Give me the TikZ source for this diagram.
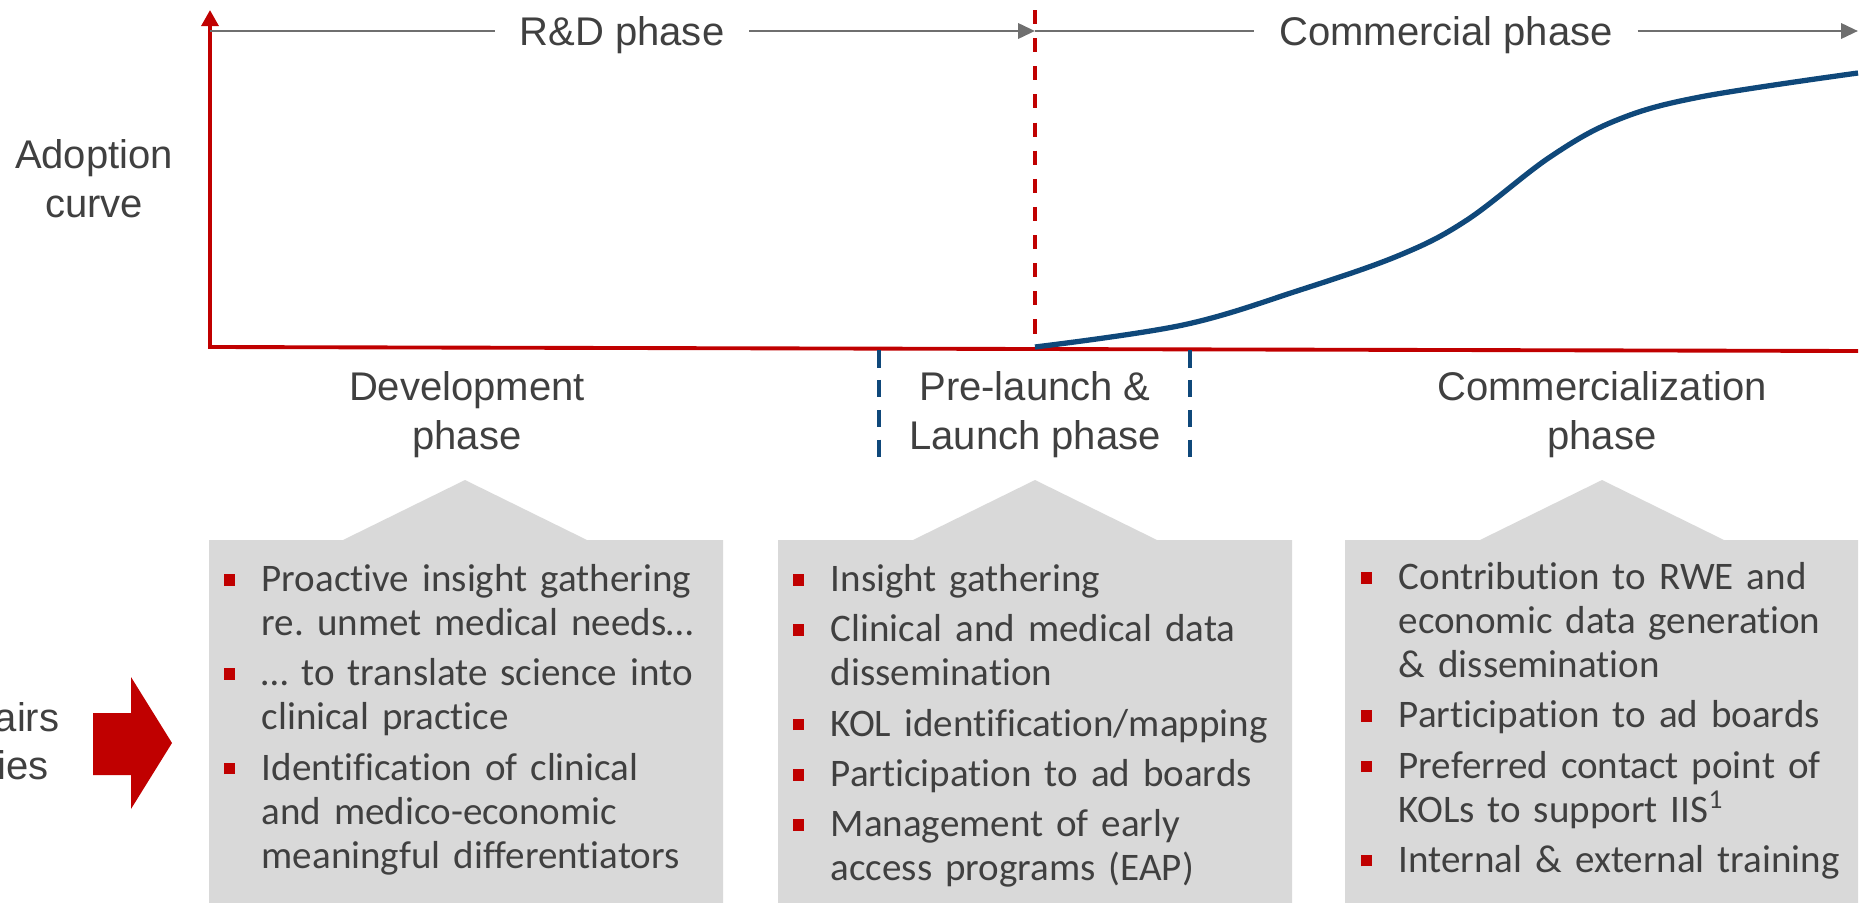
\documentclass[tikz,border=0pt]{standalone}
\usepackage{fontspec}
\setmainfont{Liberation Sans}
\newfontfamily\boxfont[Ligatures={NoCommon}]{Carlito}
\usepackage{enumitem}
\usepackage{xcolor}
\definecolor{Ink}{HTML}{404040}
\definecolor{Brick}{HTML}{C00000}
\definecolor{Navy}{HTML}{0F487A}
\definecolor{Slate}{HTML}{6F6F6F}
\definecolor{Panel}{HTML}{D9D9D9}
\usetikzlibrary{arrows.meta,positioning}

\newcommand{\sqbullet}{\textcolor{Brick}{\rule[1.7pt]{3.3pt}{3.3pt}}}
\newenvironment{acts}{\begin{itemize}[label=\sqbullet,leftmargin=10.8pt,labelsep=7.4pt,labelwidth=3.4pt,align=left,topsep=0pt,partopsep=0pt,parsep=0pt,itemsep=1.8pt]}{\end{itemize}}

\begin{document}
\begin{tikzpicture}[
  x=0.01cm, y=-0.01cm,
  labeltext/.style={font=\fontsize{11.38}{13.94}\selectfont,text=Ink,inner sep=0pt,align=center},
  phaseline/.style={draw=Slate,line width=0.85pt},
  phasearrow/.style={phaseline,-{Triangle[length=4.8pt,width=4.3pt]}},
  axisline/.style={draw=Brick,line width=1.1pt},
  launchcut/.style={draw=Brick,line width=0.9pt,dash pattern=on 4pt off 4pt},
  stagecut/.style={draw=Navy,line width=1.1pt,dash pattern=on 5pt off 3.5pt},
  panel/.style={fill=Panel},
  itemlist/.style={font=\boxfont\fontsize{11.1}{12.5}\selectfont\frenchspacing,text=Ink,inner sep=0pt,anchor=north west,text width=5cm,align=left}
]
  \useasboundingbox (0,0) rectangle (1863,903);

  % axes
  \coordinate (origin) at (210,347);
  \coordinate (ytop) at (210,10);
  \coordinate (xend) at (1858,351);
  \coordinate (launch) at (1035,347);
  \coordinate (launchtop) at (1035,10);
  \coordinate (row) at (210,31);
  \draw[axisline,-{Triangle[length=4.6pt,width=4.8pt]}] (xend) -- (origin) -- (ytop);
  \draw[launchcut] (launchtop) -- (launch);

  % phase row on top
  \node[labeltext,anchor=base,inner xsep=0.24cm] (rd) at (622,45) {R\&D phase};
  \node[labeltext,anchor=base,inner xsep=0.24cm] (comm) at (1446,45) {Commercial phase};
  \coordinate (rowend) at (1858,31);
  \draw[phaseline] (row) -- (rd.west |- row);
  \draw[phasearrow] (rd.east |- row) -- (launch |- row);
  \draw[phaseline] (launch |- row) -- (comm.west |- row);
  \draw[phasearrow] (comm.east |- row) -- (rowend);

  \node[labeltext,anchor=north] (adopt) at (94,139) {Adoption\\curve};

  % adoption curve
  \draw[Navy,line width=1.5pt] plot[smooth,tension=0.6] coordinates {(1035,347) (1183,325) (1300,290) (1400,255) (1467,220) (1550,157) (1617,120) (1700,97) (1858,73)};

  % stage limits
  \coordinate (prelaunch) at (879,350);
  \coordinate (postlaunch) at (1190,350);
  \draw[stagecut] (prelaunch) -- ++(0,107);
  \draw[stagecut] (postlaunch) -- ++(0,107);

  \node[labeltext,anchor=north] (dev) at (467,371) {Development\\phase};
  \node[labeltext,anchor=north] (pre) at (1035,371) {Pre-launch \&\\Launch phase};
  \node[labeltext,anchor=north] (cz) at (1602,371) {Commercialization\\phase};

  % panels
  \fill[panel] (209,903) -- (209,540) -- (343,540) -- (465,480) -- (587,540) -- (723,540) -- (723,903) -- cycle;
  \fill[panel] (778,903) -- (778,540) -- (913,540) -- (1035,480) -- (1157,540) -- (1292,540) -- (1292,903) -- cycle;
  \fill[panel] (1345,903) -- (1345,540) -- (1480,540) -- (1602,480) -- (1724,540) -- (1858,540) -- (1858,903) -- cycle;

  \node[itemlist] (devlist) at (223,547) {\begin{acts}
    \item Proactive insight gathering\\re. unmet medical needs…
    \item … to translate science into\\clinical practice
    \item Identification of clinical\\and medico-economic\\meaningful differentiators
  \end{acts}};
  \node[itemlist] (prelist) at (792,547) {\begin{acts}
    \item Insight gathering
    \item Clinical and medical data\\dissemination
    \item KOL identification/mapping
    \item Participation to ad boards
    \item Management of early\\access programs (EAP)
  \end{acts}};
  \node[itemlist] (czlist) at (1360,545) {\begin{acts}
    \item Contribution to RWE and\\economic data generation\\\& dissemination
    \item Participation to ad boards
    \item Preferred contact point of\\KOLs to support IIS\textsuperscript{1}
    \item Internal \& external training
  \end{acts}};

  % left side
  \fill[Brick] (93,713) -- (131,713) -- (131,677) -- (172,743) -- (131,809) -- (131,775) -- (93,775) -- cycle;
  \node[labeltext,anchor=base east] (affairs) at (60,731) {airs};
  \node[labeltext,anchor=base east] (acts) at (49,779) {ies};
\end{tikzpicture}
\end{document}
